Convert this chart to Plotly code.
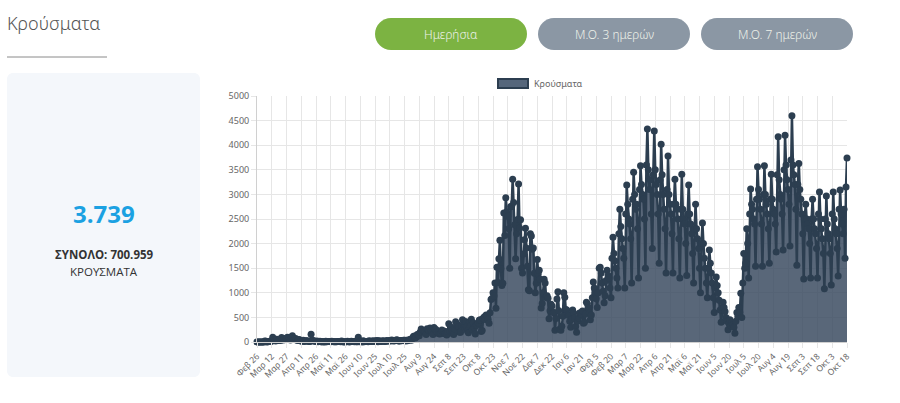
import plotly.graph_objects as go
import pandas as pd

start_date = "2020-02-26"
daily_cases = [
    1, 2, 1, 0, 0, 0, 2,
    2, 22, 14, 0, 7, 11, 16,
    10, 18, 95, 38, 41, 21, 56,
    31, 31, 46, 31, 94, 46, 48,
    48, 71, 74, 95, 64, 77, 43,
    102, 129, 54, 60, 70, 62, 31,
    40, 50, 25, 20, 15, 34, 11,
    21, 25, 25, 13, 12, 8, 156,
    32, 28, 20, 15, 11, 18, 3,
    10, 15, 11, 2, 11, 6, 2,
    15, 5, 8, 12, 10, 5, 16,
    9, 5, 6, 3, 6, 8, 10,
    9, 6, 18, 5, 3, 2, 3,
    5, 14, 9, 2, 10, 17, 11,
    8, 4, 10, 4, 5, 97, 7,
    15, 10, 2, 24, 6, 10, 10,
    12, 5, 25, 15, 12, 13, 24,
    12, 18, 19, 28, 7, 27, 19,
    12, 13, 25, 20, 12, 15, 29,
    22, 20, 30, 19, 40, 33, 21,
    24, 29, 44, 35, 21, 21, 33,
    23, 30, 38, 37, 21, 34, 27,
    40, 40, 57, 34, 75, 110, 124,
    80, 100, 153, 151, 126, 203, 262,
    205, 230, 217, 203, 150, 269, 250,
    233, 284, 228, 185, 150, 293, 253,
    256, 209, 183, 168, 161, 174, 243,
    212, 222, 169, 175, 142, 211, 372,
    232, 306, 237, 174, 153, 268, 410,
    342, 358, 314, 200, 196, 328, 453,
    338, 293, 415, 305, 223, 187, 411,
    319, 460, 248, 387, 291, 164, 338,
    342, 390, 440, 453, 214, 232, 483,
    508, 457, 548, 530, 460, 381, 596,
    865, 882, 1000, 935, 1200, 688, 1520,
    1211, 1690, 2070, 1490, 1149, 1196, 2620,
    2166, 2930, 2646, 2556, 2300, 1500, 2752,
    2752, 3310, 2835, 2384, 1690, 2198, 2489,
    3210, 2311, 2486, 1498, 1400, 1787, 2078,
    2311, 1912, 1538, 1060, 1044, 2199, 2152,
    1883, 1910, 1395, 1000, 1193, 1677, 1382,
    1460, 1276, 690, 780, 1003, 1276, 1200,
    906, 941, 890, 473, 635, 765, 730,
    605, 596, 240, 480, 873, 1020, 634,
    262, 240, 320, 521, 1000, 910, 662,
    651, 560, 540, 420, 300, 460, 650,
    590, 482, 316, 200, 428, 489, 590,
    590, 560, 630, 380, 402, 570, 810,
    780, 700, 590, 450, 550, 900, 1220,
    1100, 1000, 880, 700, 1000, 1500, 1520,
    1400, 1200, 1030, 800, 940, 1250, 1460,
    1350, 1300, 1100, 900, 1700, 2130, 1800,
    1650, 1500, 1300, 1100, 2200, 2700, 2350,
    2100, 1900, 1700, 1100, 2600, 3190, 2800,
    2500, 2400, 2100, 1200, 2900, 3450, 3000,
    2700, 2800, 2300, 1300, 3100, 3580, 3200,
    3000, 2900, 2500, 1500, 3600, 4330, 3500,
    3100, 3300, 2600, 1900, 3400, 4290, 3500,
    3200, 3000, 2600, 1600, 3300, 4020, 3400,
    3000, 2700, 2300, 1400, 3100, 3780, 3000,
    2800, 2600, 2200, 1400, 2800, 3310, 2800,
    2700, 2500, 2100, 1300, 2700, 3410, 2700,
    2500, 2400, 2000, 1350, 2600, 3190, 2600,
    2400, 2200, 1800, 1200, 2300, 2800, 2300,
    2100, 1900, 1500, 1000, 2000, 2420, 2000,
    1700, 1500, 1200, 900, 1500, 1870, 1600,
    1400, 1200, 900, 600, 1100, 1320, 1150,
    1000, 850, 650, 400, 700, 810, 700,
    620, 500, 420, 250, 380, 450, 330,
    400, 350, 300, 180, 420, 600, 520,
    700, 600, 990, 500, 1200, 1800, 1500,
    1600, 2300, 2000, 1300, 2600, 3110, 2800,
    2700, 2500, 2400, 1540, 2900, 3560, 3100,
    2900, 2700, 2400, 1540, 3000, 3580, 3000,
    2800, 2600, 2300, 1600, 2900, 3410, 2900,
    2700, 2600, 2400, 1830, 3400, 4170, 3300,
    3000, 2900, 2600, 1870, 3500, 4200, 3600,
    3300, 3100, 2800, 1950, 3700, 4600, 3600,
    3400, 3200, 2700, 1560, 3200, 3630, 3100,
    2900, 2600, 2200, 1280, 2500, 2800, 2500,
    2400, 2300, 2000, 1300, 2500, 2900, 2500,
    2300, 2200, 1900, 1300, 2600, 3050, 2500,
    2300, 2100, 1800, 1080, 2500, 2970, 2400,
    2200, 2100, 1800, 1160, 2600, 3050, 2500,
    2300, 2200, 1900, 1340, 2700, 3090, 2600,
    2400, 2200, 2700, 1700, 3150, 3739,
]

tick_labels = [
    "Φεβ 26", "Μαρ 12", "Μαρ 27", "Απρ 11", "Απρ 26", "Μαϊ 11", "Μαϊ 26",
    "Ιουν 10", "Ιουν 25", "Ιουλ 10", "Ιουλ 25", "Αυγ 9", "Αυγ 24", "Σεπ 8",
    "Σεπ 23", "Οκτ 8", "Οκτ 23", "Νοε 7", "Νοε 22", "Δεκ 7", "Δεκ 22",
    "Ιαν 6", "Ιαν 21", "Φεβ 5", "Φεβ 20", "Μαρ 7", "Μαρ 22", "Απρ 6",
    "Απρ 21", "Μαϊ 6", "Μαϊ 21", "Ιουν 5", "Ιουν 20", "Ιουλ 5", "Ιουλ 20",
    "Αυγ 4", "Αυγ 19", "Σεπ 3", "Σεπ 18", "Οκτ 3", "Οκτ 18",
]
tick_step = 15

series_name = "Κρούσματα"
page_title = "Κρούσματα"
buttons = ["Ημερήσια", "Μ.Ο. 3 ημερών", "Μ.Ο. 7 ημερών"]
latest_value = "3.739"
total_label = "ΣΥΝΟΛΟ: 700.959"
unit_label = "ΚΡΟΥΣΜΑΤΑ"

dates = pd.date_range(start_date, periods=len(daily_cases), freq="D")
tick_vals = [dates[i] for i in range(0, len(dates), tick_step)]

W, H = 900, 403
PL, PR, PT, PB = 257, 847, 96, 342


def px(x):
    return (x - PL) / (PR - PL)


def py(y):
    return (PB - y) / (PB - PT)


def rounded_rect(x0, y0, x1, y1, r):
    k = 0.45
    pts = [
        ("M", x0 + r, y0),
        ("L", x1 - r, y0),
        ("C", (x1 - r * k, y0), (x1, y0 + r * k), (x1, y0 + r)),
        ("L", x1, y1 - r),
        ("C", (x1, y1 - r * k), (x1 - r * k, y1), (x1 - r, y1)),
        ("L", x0 + r, y1),
        ("C", (x0 + r * k, y1), (x0, y1 - r * k), (x0, y1 - r)),
        ("L", x0, y0 + r),
        ("C", (x0, y0 + r * k), (x0 + r * k, y0), (x0 + r, y0)),
    ]
    s = ""
    for p in pts:
        if p[0] == "C":
            s += "C" + " ".join(f"{px(a):.5f},{py(b):.5f}" for a, b in p[1:]) + " "
        else:
            s += f"{p[0]}{px(p[1]):.5f},{py(p[2]):.5f} "
    return s + "Z"


line_col = "#2c3e50"
fill_col = "rgba(52,70,92,0.82)"

fig = go.Figure()
fig.add_trace(go.Scatter(
    x=dates, y=daily_cases, name=series_name, mode="lines+markers",
    fill="tozeroy", fillcolor=fill_col,
    line=dict(color=line_col, width=2.5),
    marker=dict(color=line_col, size=7),
    cliponaxis=False, showlegend=False,
))

shapes = []
annotations = []

# left panel
shapes.append(dict(type="path", xref="paper", yref="paper",
                   path=rounded_rect(7, 73, 200, 377, 6),
                   fillcolor="#f4f7fb", line=dict(width=0), layer="below"))
# title underline
shapes.append(dict(type="line", xref="paper", yref="paper",
                   x0=px(7), x1=px(107), y0=py(57), y1=py(57),
                   line=dict(color="#8a8a8a", width=1)))
annotations.append(dict(xref="paper", yref="paper", x=px(5), y=py(23),
                        text=page_title, showarrow=False, xanchor="left", yanchor="middle",
                        font=dict(family="Noto Sans", size=18, color="#555555", weight=300)))

# buttons
btn_boxes = [(375, 527), (538, 690), (701, 853)]
btn_colors = ["#7cb342", "#8b97a4", "#8b97a4"]
for (bx0, bx1), col, label in zip(btn_boxes, btn_colors, buttons):
    shapes.append(dict(type="path", xref="paper", yref="paper",
                       path=rounded_rect(bx0, 18, bx1, 50, 16),
                       fillcolor=col, line=dict(width=0)))
    annotations.append(dict(xref="paper", yref="paper", x=px((bx0 + bx1) / 2), y=py(34),
                            text=label, showarrow=False, xanchor="center", yanchor="middle",
                            font=dict(family="Noto Sans", size=12, color="#eef2ea", weight=300)))

# left panel texts
annotations.append(dict(xref="paper", yref="paper", x=px(104), y=py(213),
                        text=f"<b>{latest_value}</b>", showarrow=False,
                        xanchor="center", yanchor="middle",
                        font=dict(family="Open Sans", size=24, color="#1ba1e2")))
annotations.append(dict(xref="paper", yref="paper", x=px(104), y=py(254),
                        text=f"<b>{total_label}</b>", showarrow=False,
                        xanchor="center", yanchor="middle",
                        font=dict(family="Open Sans", size=11.5, color="#333333")))
annotations.append(dict(xref="paper", yref="paper", x=px(104), y=py(271),
                        text=unit_label, showarrow=False,
                        xanchor="center", yanchor="middle",
                        font=dict(family="Open Sans", size=11.5, color="#333333")))

# legend
shapes.append(dict(type="rect", xref="paper", yref="paper",
                   x0=px(498), x1=px(528), y0=py(88), y1=py(79),
                   fillcolor="#55667b", line=dict(color=line_col, width=2)))
annotations.append(dict(xref="paper", yref="paper", x=px(532), y=py(83.5),
                        text=series_name, showarrow=False, xanchor="left", yanchor="middle",
                        font=dict(family="Noto Sans", size=9, color="#666666")))

fig.update_layout(
    width=W, height=H,
    margin=dict(l=PL, r=W - PR, t=PT, b=H - PB, pad=0),
    paper_bgcolor="white", plot_bgcolor="white",
    shapes=shapes, annotations=annotations,
    showlegend=False,
    xaxis=dict(
        range=[dates[0], dates[-1]],
        tickvals=tick_vals, ticktext=tick_labels, tickangle=-45,
        showgrid=True, gridcolor="#e6e6e6", gridwidth=1,
        ticks="outside", ticklen=5, tickcolor="#e6e6e6",
        showline=True, linecolor="#d0d0d0", linewidth=1,
        tickfont=dict(family="Noto Sans", size=8.5, color="#666666"),
        zeroline=False, fixedrange=True,
    ),
    yaxis=dict(
        range=[0, 5000], dtick=500, tick0=0,
        showgrid=True, gridcolor="#e6e6e6", gridwidth=1,
        ticks="outside", ticklen=5, tickcolor="#e6e6e6",
        showline=True, linecolor="#d0d0d0", linewidth=1,
        tickfont=dict(family="Noto Sans", size=9, color="#666666"),
        zeroline=False, fixedrange=True,
    ),
)

fig.write_html("out.html", config={"displayModeBar": False})
